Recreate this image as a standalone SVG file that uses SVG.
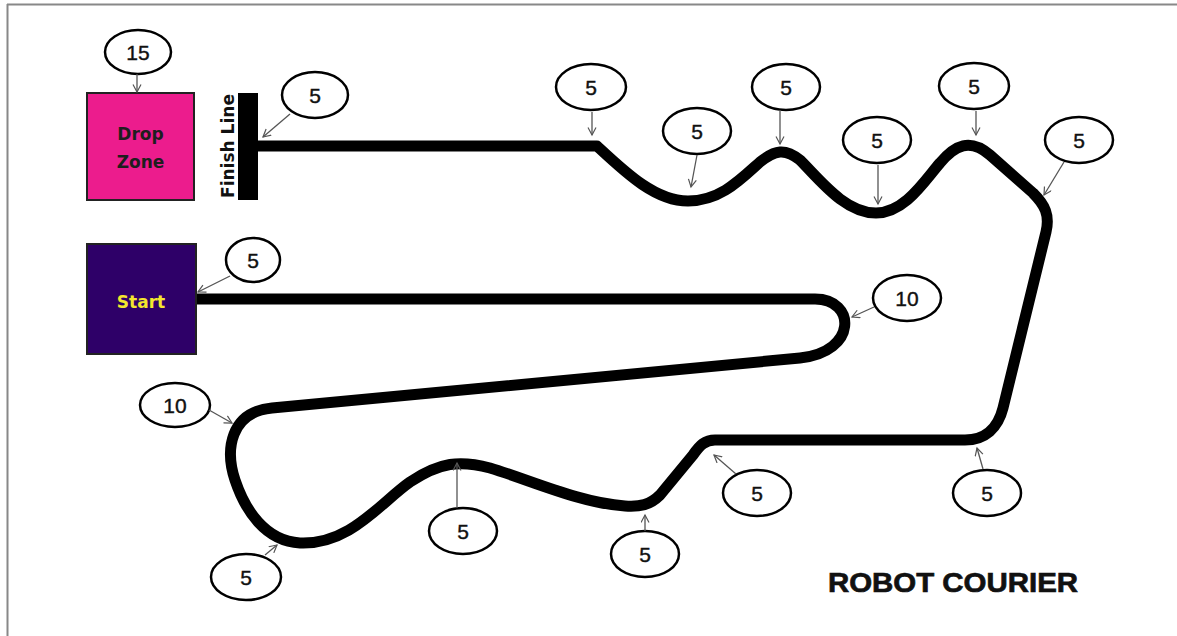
<svg xmlns="http://www.w3.org/2000/svg" width="1177" height="636" viewBox="0 0 1177 636">
<defs>
<marker id="ah" markerUnits="userSpaceOnUse" markerWidth="12" markerHeight="12" refX="8" refY="4.5" orient="auto">
<path d="M0.5,0.5 L8,4.5 L0.5,8.5" fill="none" stroke="#555" stroke-width="1.2"/>
</marker>
<style>
.bub ellipse{fill:#fff;stroke:#000;stroke-width:2.5}
.bub text{font-family:"Liberation Sans",Arial,sans-serif;font-size:21px;fill:#111;stroke:#111;stroke-width:0.4;text-anchor:middle;dominant-baseline:central}
.arr{stroke:#555;stroke-width:1.3;fill:none;marker-end:url(#ah)}
.lbl{font-family:"DejaVu Sans",Verdana,sans-serif;font-weight:bold;font-size:17px;text-anchor:middle}
</style>
</defs>
<rect width="1177" height="636" fill="#fff"/>
<g id="frame" stroke="#888" stroke-width="2" fill="none">
<line x1="7" y1="4.5" x2="1177" y2="4.5"/>
<line x1="7.5" y1="4" x2="7.5" y2="636"/>
</g>
<g id="track">
<path d="M 258 146 L 597 146 C 625 172 655 201 688 201 C 720 201 740 180 760 162 C 775 150 785 148 800 160 C 820 180 845 213 876 213 C 905 213 925 180 940 163 C 955 145 970 138 990 155 L 1033 193 C 1045 205 1050 215 1046 232 L 1003 408 C 998 428 985 440 965 440 L 715 440 C 705 440 700 445 693 455 L 660 495 C 650 505 640 507 625 506 C 580 503 530 480 490 468 C 460 460 440 462 410 482 C 380 503 350 545 300 543 C 265 541 245 510 235 480 C 225 450 230 412 272 408 L 800 358 C 858 352 856 299 815 299 L 196 299" fill="none" stroke="#000" stroke-width="11" stroke-linejoin="round"/>
</g>
<g id="drop-zone">
<rect x="87" y="93" width="107" height="107" fill="#EC1C8D" stroke="#222" stroke-width="2"/>
<text class="lbl" x="140.5" y="140" fill="#1e1e1e">Drop</text>
<text class="lbl" x="140.5" y="168" fill="#1e1e1e">Zone</text>
</g>
<g id="start">
<rect x="87" y="244" width="109" height="110" fill="#2E0068" stroke="#222" stroke-width="2"/>
<text class="lbl" x="141" y="308" fill="#F3E62E" font-size="18">Start</text>
</g>
<g id="finish-line">
<rect x="238" y="93" width="20" height="107" fill="#000"/>
<text class="lbl" transform="translate(234,146) rotate(-90)" fill="#111" textLength="104" lengthAdjust="spacingAndGlyphs">Finish Line</text>
</g>
<g id="title">
<text x="953" y="592" font-family="'Liberation Sans',Arial,sans-serif" font-weight="bold" font-size="28" fill="#111" stroke="#111" stroke-width="0.7" text-anchor="middle" textLength="250" lengthAdjust="spacingAndGlyphs">ROBOT COURIER</text>
</g>
<g id="b15" class="bub"><ellipse cx="138" cy="52" rx="33" ry="22"/><text x="138" y="52">15</text></g>
<g id="b-finish" class="bub"><ellipse cx="315" cy="95" rx="33" ry="23"/><text x="315" y="95">5</text></g>
<g id="b-start" class="bub"><ellipse cx="253" cy="260" rx="27" ry="22"/><text x="253" y="260">5</text></g>
<g id="b-t1" class="bub"><ellipse cx="591" cy="87" rx="35" ry="23"/><text x="591" y="87">5</text></g>
<g id="b-t2" class="bub"><ellipse cx="697" cy="131" rx="34" ry="23"/><text x="697" y="131">5</text></g>
<g id="b-t3" class="bub"><ellipse cx="786" cy="87" rx="34" ry="23"/><text x="786" y="87">5</text></g>
<g id="b-t4" class="bub"><ellipse cx="877" cy="140" rx="34" ry="23"/><text x="877" y="140">5</text></g>
<g id="b-t5" class="bub"><ellipse cx="974" cy="86" rx="35" ry="23"/><text x="974" y="86">5</text></g>
<g id="b-t6" class="bub"><ellipse cx="1079" cy="140" rx="34" ry="23"/><text x="1079" y="140">5</text></g>
<g id="b-10r" class="bub"><ellipse cx="907" cy="298" rx="34" ry="23"/><text x="907" y="298">10</text></g>
<g id="b-10l" class="bub"><ellipse cx="175" cy="405" rx="35" ry="22"/><text x="175" y="405">10</text></g>
<g id="b-r5" class="bub"><ellipse cx="987" cy="493" rx="34" ry="23"/><text x="987" y="493">5</text></g>
<g id="b-m5" class="bub"><ellipse cx="757" cy="493" rx="34" ry="23"/><text x="757" y="493">5</text></g>
<g id="b-l5" class="bub"><ellipse cx="645" cy="554" rx="34" ry="23"/><text x="645" y="554">5</text></g>
<g id="b-c5" class="bub"><ellipse cx="463" cy="531" rx="34" ry="23"/><text x="463" y="531">5</text></g>
<g id="b-bl5" class="bub"><ellipse cx="246" cy="577" rx="35" ry="23"/><text x="246" y="577">5</text></g>
<g id="connectors">
<line class="arr" x1="137" y1="74" x2="137" y2="92"/>
<line class="arr" x1="290" y1="114" x2="263" y2="137"/>
<line class="arr" x1="230" y1="276" x2="198" y2="292"/>
<line class="arr" x1="592" y1="112" x2="592" y2="135"/>
<line class="arr" x1="697" y1="155" x2="691" y2="187"/>
<line class="arr" x1="780" y1="110" x2="780" y2="144"/>
<line class="arr" x1="878" y1="165" x2="878" y2="204"/>
<line class="arr" x1="976" y1="111" x2="976" y2="135"/>
<line class="arr" x1="1064" y1="162" x2="1044" y2="195"/>
<line class="arr" x1="874" y1="307" x2="852" y2="317"/>
<line class="arr" x1="209" y1="410" x2="232" y2="423"/>
<line class="arr" x1="983" y1="469" x2="977" y2="448"/>
<line class="arr" x1="736" y1="474" x2="714" y2="455"/>
<line class="arr" x1="645" y1="531" x2="645" y2="515"/>
<line class="arr" x1="457" y1="508" x2="457" y2="463"/>
<line class="arr" x1="265" y1="555" x2="277" y2="545"/>
</g>
</svg>
